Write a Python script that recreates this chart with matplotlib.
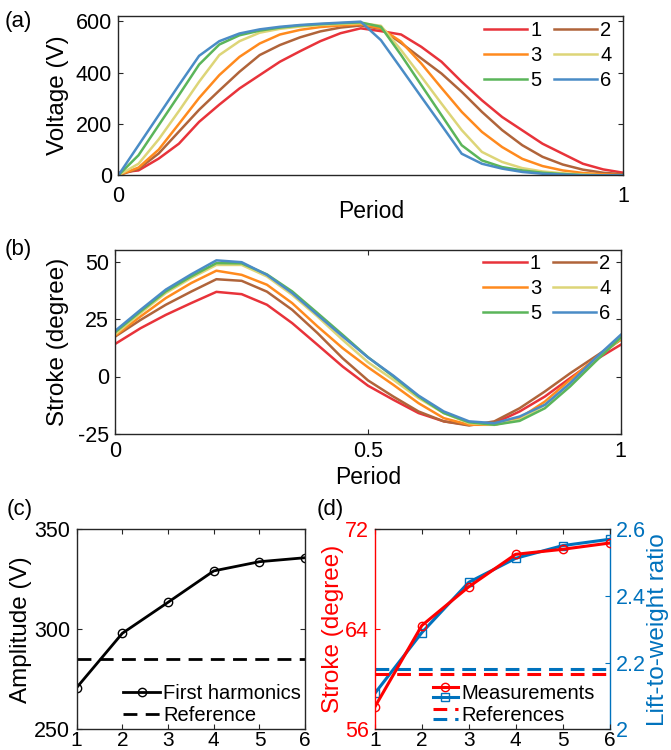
import numpy as np
import matplotlib
matplotlib.use("Agg")
import matplotlib.pyplot as plt
from matplotlib.legend_handler import HandlerTuple

plt.rcParams['font.family'] = ['Liberation Sans', 'DejaVu Sans']
plt.rcParams['font.size'] = 15.5
plt.rcParams['axes.unicode_minus'] = False

LABEL_FS = 17.5
LEGEND_FS = 14.5

# ---- data -------------------------------------------------------------
labels = ['1', '2', '3', '4', '5', '6']
colors = ['#E8333A', '#B0643A', '#FF8A1E', '#DDD578', '#5BB55A', '#4A8CC6']

# (a) voltage over one period, sampled every 0.04
period_a = np.linspace(0, 1, 26)
volt_1 = [10, 19, 65, 123, 208, 275, 338, 390, 442, 483, 522, 553, 572,
          561, 548, 500, 442, 364, 292, 227, 175, 123, 84, 45, 23, 10]
volt_2 = [0, 25, 85, 170, 255, 330, 403, 468, 507, 537, 560, 575, 583,
          570, 515, 455, 396, 325, 247, 176, 117, 72, 42, 22, 10, 4]
volt_3 = [0, 30, 100, 200, 301, 390, 461, 513, 548, 566, 577, 583, 588,
          572, 520, 435, 340, 247, 169, 110, 64, 36, 19, 9, 4, 0]
volt_4 = [0, 45, 140, 250, 364, 468, 522, 555, 570, 579, 585, 589, 592,
          582, 487, 384, 279, 176, 91, 52, 28, 15, 8, 3, 0, 0]
volt_5 = [0, 78, 195, 312, 431, 509, 545, 563, 575, 583, 588, 592, 595,
          578, 468, 351, 234, 117, 58, 32, 19, 10, 5, 1, 0, 0]
volt_6 = [0, 117, 234, 351, 465, 522, 552, 568, 578, 585, 590, 594, 598,
          526, 416, 305, 195, 84, 45, 26, 13, 6, 3, 0, 0, 0]
volts = [volt_1, volt_2, volt_3, volt_4, volt_5, volt_6]

# (b) stroke angle over one period, sampled every 0.05
period_b = np.linspace(0, 1, 21)
stroke_1 = [14.2, 21.0, 26.8, 31.9, 36.8, 35.8, 31.2, 23.2, 13.8, 4.3, -4.0,
            -10.1, -15.9, -19.5, -21.0, -20.3, -15.2, -8.7, -0.7, 7.2, 13.8]
stroke_2 = [17.4, 24.6, 31.2, 36.9, 42.3, 41.6, 36.9, 29.0, 18.9, 7.9, -1.7,
            -8.7, -15.2, -19.5, -21.3, -19.5, -13.8, -6.5, 1.4, 8.7, 16.0]
stroke_3 = [17.8, 26.1, 34.1, 40.6, 46.0, 44.2, 39.9, 31.9, 21.8, 12.3, 4.0,
            -3.6, -11.6, -18.1, -21.0, -21.0, -18.1, -10.9, -1.4, 8.0, 16.0]
stroke_4 = [18.4, 27.6, 36.3, 42.8, 48.5, 48.5, 43.5, 35.5, 26.1, 15.9, 6.2,
            -1.4, -9.4, -15.9, -20.3, -21.0, -18.8, -12.3, -2.9, 7.2, 16.6]
stroke_5 = [19.3, 28.3, 37.0, 43.5, 49.3, 49.2, 44.4, 37.0, 27.6, 18.1, 8.4,
            0.0, -8.7, -15.9, -19.9, -21.0, -19.3, -13.8, -4.3, 6.5, 16.9]
stroke_6 = [19.9, 29.0, 37.8, 44.4, 50.5, 49.7, 44.2, 36.3, 26.8, 17.4, 8.3,
            0.4, -8.3, -15.2, -19.5, -20.3, -17.4, -12.3, -2.9, 8.0, 18.1]
strokes = [stroke_1, stroke_2, stroke_3, stroke_4, stroke_5, stroke_6]

# (c) first harmonic amplitude
case = [1, 2, 3, 4, 5, 6]
amplitude = [270.8, 298.0, 313.5, 329.2, 333.8, 335.8]
amplitude_ref = 285

# (d) stroke amplitude and lift-to-weight ratio
stroke_amp = [57.8, 64.3, 67.4, 70.0, 70.4, 70.9]
lift_ratio = [2.108, 2.29, 2.441, 2.513, 2.551, 2.57]
stroke_ref = 60.4
lift_ref = 2.18

RED = '#FF0000'
BLUE = '#0072BD'
SPINE = '#262626'

W, H = 671, 750
fig = plt.figure(figsize=(W / 100, H / 100), dpi=100)


def px_axes(l, t, r, b):
    return fig.add_axes([l / W, 1 - b / H, (r - l) / W, (b - t) / H])


def box_style(ax, xpad, ypad=4.5):
    for s in ax.spines.values():
        s.set_color(SPINE)
        s.set_linewidth(1.0)
    ax.tick_params(direction='in', top=True, right=True, length=3.5,
                   width=0.8, color=SPINE)
    ax.tick_params(axis='x', pad=xpad)
    ax.tick_params(axis='y', pad=ypad)


legend_kw = dict(ncol=2, frameon=False, loc='upper right', borderaxespad=0,
                 borderpad=0, handlelength=2.15, handletextpad=0.15,
                 columnspacing=0.6, labelspacing=0.3, fontsize=LEGEND_FS)
order = [0, 2, 4, 1, 3, 5]

# ---- (a) ---------------------------------------------------------------
ax_a = px_axes(118.3, 16, 623.3, 175.3)
lines = []
for v, c, lab in zip(volts, colors, labels):
    ln, = ax_a.plot(period_a, v, color=c, lw=1.8, label=lab)
    lines.append(ln)
ax_a.set_xlim(0, 1)
ax_a.set_ylim(0, 620)
ax_a.set_xticks([0, 1])
ax_a.set_xticklabels(['0', '1'])
ax_a.set_yticks([0, 200, 400, 600])
box_style(ax_a, xpad=8)
ax_a.set_xlabel('Period', fontsize=LABEL_FS - 1)
ax_a.xaxis.set_label_coords(0.5, -0.155)
ax_a.set_ylabel('Voltage (V)', fontsize=LABEL_FS)
ax_a.yaxis.set_label_coords(-0.0976, 0.5)
ax_a.legend([lines[i] for i in order], [labels[i] for i in order],
            bbox_to_anchor=(1 - 12 / 505, 1 - 5 / 159.3), **legend_kw)
fig.text(18 / W, 1 - 21 / H, '(a)', ha='center', va='center', fontsize=16)

# ---- (b) ---------------------------------------------------------------
ax_b = px_axes(115.3, 250, 620.7, 434)
lines = []
for s, c, lab in zip(strokes, colors, labels):
    ln, = ax_b.plot(period_b, s, color=c, lw=1.8, label=lab)
    lines.append(ln)
ax_b.set_xlim(0, 1)
ax_b.set_ylim(-25, 55)
ax_b.set_xticks([0, 0.5, 1])
ax_b.set_xticklabels(['0', '0.5', '1'])
ax_b.set_yticks([-25, 0, 25, 50])
box_style(ax_b, xpad=5)
ax_b.set_xlabel('Period', fontsize=LABEL_FS - 1)
ax_b.xaxis.set_label_coords(0.5, -0.172)
ax_b.set_ylabel('Stroke (degree)', fontsize=LABEL_FS)
ax_b.yaxis.set_label_coords(-0.0916, 0.5)
ax_b.legend([lines[i] for i in order], [labels[i] for i in order],
            bbox_to_anchor=(1 - 10 / 505.4, 1 - 4 / 184), **legend_kw)
fig.text(18 / W, 1 - 249 / H, '(b)', ha='center', va='center', fontsize=16)

# ---- (c) ---------------------------------------------------------------
ax_c = px_axes(76.6, 529.3, 305.2, 729.3)
ax_c.plot(case, amplitude, color='k', lw=2, marker='o', ms=6,
          mfc='none', mew=1.0, label='First harmonics')
ax_c.plot([case[0], case[-1]], [amplitude_ref, amplitude_ref], color='k',
          lw=2, dashes=(5, 3), label='Reference')
ax_c.set_xlim(1, 6)
ax_c.set_ylim(250, 350)
ax_c.set_xticks(case)
ax_c.set_yticks([250, 300, 350])
box_style(ax_c, xpad=1)
ax_c.tick_params(axis='x', labelsize=15)
ax_c.set_ylabel('Amplitude (V)', fontsize=LABEL_FS)
ax_c.yaxis.set_label_coords(-0.193, 0.5)
ax_c.legend(frameon=False, loc='lower right', bbox_to_anchor=(1.0, 0.0),
            borderaxespad=0.1, borderpad=0.1, handlelength=1.85,
            handletextpad=0.15, labelspacing=0.15, fontsize=LEGEND_FS)
fig.text(20 / W, 1 - 509 / H, '(c)', ha='center', va='center', fontsize=16)

# ---- (d) ---------------------------------------------------------------
ax_d = px_axes(374.9, 529.3, 609.5, 729.3)
ax_r = ax_d.twinx()
ax_d.set_zorder(ax_r.get_zorder() + 1)
ax_d.patch.set_visible(False)

m_blue, = ax_r.plot(case, lift_ratio, color=BLUE, lw=2.2, marker='s', ms=6,
                    mfc='none', mew=1.0)
r_blue, = ax_r.plot([case[0], case[-1]], [lift_ref, lift_ref], color=BLUE,
                    lw=2.2, dashes=(4.5, 2.6))
m_red, = ax_d.plot(case, stroke_amp, color=RED, lw=2.2, marker='o', ms=6,
                   mfc='none', mew=1.0)
r_red, = ax_d.plot([case[0], case[-1]], [stroke_ref, stroke_ref], color=RED,
                   lw=2.2, dashes=(4.5, 2.6))

ax_d.set_xlim(1, 6)
ax_d.set_ylim(56, 72)
ax_d.set_xticks(case)
ax_d.set_yticks([56, 64, 72])
ax_r.set_ylim(2, 2.6)
ax_r.set_yticks([2, 2.2, 2.4, 2.6])
ax_r.set_yticklabels(['2', '2.2', '2.4', '2.6'])

for s in ax_d.spines.values():
    s.set_color(SPINE)
    s.set_linewidth(1.0)
ax_d.spines['left'].set_color(RED)
ax_d.spines['right'].set_visible(False)
for s in ax_r.spines.values():
    s.set_visible(False)
ax_r.spines['right'].set_visible(True)
ax_r.spines['right'].set_color(BLUE)
ax_r.spines['right'].set_linewidth(1.0)
ax_d.tick_params(direction='in', top=True, right=False, length=3.5,
                 width=0.8, color=SPINE)
ax_d.tick_params(axis='x', pad=1, labelsize=15)
ax_d.tick_params(axis='y', colors=RED, pad=4.5)
ax_r.tick_params(axis='y', direction='in', length=3.5, width=0.8,
                 colors=BLUE, pad=4.5)
ax_d.set_ylabel('Stroke (degree)', color=RED, fontsize=LABEL_FS)
ax_d.yaxis.set_label_coords(-0.132, 0.5)
ax_r.set_ylabel('Lift-to-weight ratio', color=BLUE, fontsize=LABEL_FS)
ax_r.yaxis.set_label_coords(1.16, 0.5)


class HandlerStack(HandlerTuple):
    """Draw the handles of a tuple one above the other."""
    def __init__(self, gap=7, **kw):
        super().__init__(**kw)
        self.gap = gap

    def create_artists(self, legend, orig_handle, xdescent, ydescent,
                       width, height, fontsize, trans):
        hmap = legend.get_legend_handler_map()
        out = []
        for i, h in enumerate(orig_handle):
            handler = legend.get_legend_handler(hmap, h)
            off = self.gap * (i - 0.5) * 2
            out.extend(handler.create_artists(legend, h, xdescent,
                                              ydescent + off, width, height,
                                              fontsize, trans))
        return out


ax_d.legend([(m_red, m_blue), (r_red, r_blue)], ['Measurements', 'References'],
            handler_map={tuple: HandlerStack(gap=7.5)},
            frameon=False, loc='lower right',
            bbox_to_anchor=(1 - 11 / 234.6, 0.0),
            borderaxespad=0.1, borderpad=0.1, handlelength=1.25,
            handletextpad=0.15, labelspacing=0.15, fontsize=LEGEND_FS)
fig.text(330 / W, 1 - 509 / H, '(d)', ha='center', va='center', fontsize=16)

fig.savefig('out.png', dpi=100)
